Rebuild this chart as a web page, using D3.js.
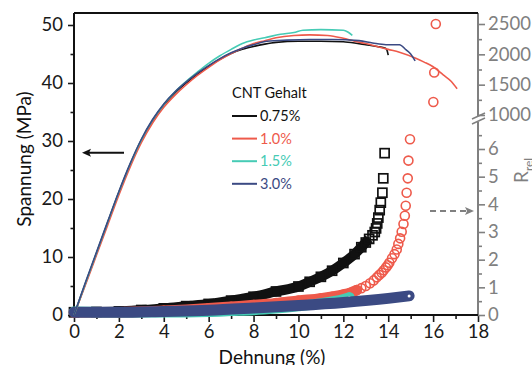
<!DOCTYPE html>
<html><head><meta charset="utf-8">
<script src="https://cdn.jsdelivr.net/npm/d3@7"></script>
<style>
html,body{margin:0;padding:0;background:#fff;}
svg{display:block;font-family:Lato,"Open Sans",sans-serif;}
</style></head>
<body>
<svg id="c" width="532" height="365"></svg>
<script>
// ---------- DATA ----------
const seriesNames = ["0.75%", "1.0%", "1.5%", "3.0%"];
const seriesColors = ["#111111", "#ee5a4b", "#46cbb5", "#3b4a83"];
const legendTitle = "CNT Gehalt";
const xTicks = [0, 2, 4, 6, 8, 10, 12, 14, 16, 18];
const yLeftTicks = [0, 10, 20, 30, 40, 50];
const yRightTicks = [0, 1, 2, 3, 4, 5, 6];
const yUpperTicks = [1000, 1500, 2000, 2500];

// stress-strain curves [strain %, stress MPa]
const stress075 = [[0,0],[0.5,5.3],[1,10.6],[1.5,15.9],[2,21.1],[2.5,25.9],[3,30.1],[3.5,33.5],[4,36.2],[4.5,38.3],[5,40],[5.5,41.5],[6,42.9],[6.5,44.1],[7,45.1],[7.5,45.8],[8,46.3],[8.5,46.7],[9,47],[10,47.2],[11,47.2],[12,47.1],[12.5,46.9],[13,46.6],[13.5,46.3],[13.88,46.0],[13.95,45.6],[14,44.8]];
const stress10 = [[0,0],[0.5,5.1],[1,10.3],[1.5,15.5],[2,20.7],[2.5,25.5],[3,29.7],[3.5,33.1],[4,35.8],[4.5,37.9],[5,39.7],[5.5,41.3],[6,42.7],[6.5,44],[7,45.1],[7.5,46],[8,46.8],[8.5,47.3],[9,47.8],[9.8,48.2],[10.5,48.3],[11.3,48.2],[12,47.7],[12.5,47.2],[13,46.8],[13.5,46.3],[14,45.8],[14.5,45.3],[15.2,44.3],[15.6,43.6],[16,42.8],[16.45,41.4],[16.8,40.3],[17.07,39.0]];
const stress15 = [[0,0],[0.5,5.4],[1,10.7],[1.5,16],[2,21.2],[2.5,26],[3,30.2],[3.5,33.6],[4,36.3],[4.5,38.5],[5,40.3],[5.5,41.9],[6,43.4],[6.5,44.7],[7,45.8],[7.5,46.8],[8,47.4],[8.5,47.8],[9.2,48.4],[9.8,48.7],[10.2,49.1],[11,49.2],[12,49.1],[12.2,48.8],[12.4,48.2]];
const stress30 = [[0,0],[0.5,5.5],[1,10.8],[1.5,16.1],[2,21.3],[2.5,26.1],[3,30.3],[3.5,33.7],[4,36.4],[4.5,38.5],[5,40.2],[5.5,41.7],[6,43],[6.5,44.2],[7,45.2],[7.5,46],[8,46.6],[8.6,47.2],[9.5,47.4],[10.5,47.5],[11.5,47.5],[12.7,47.3],[13.3,46.9],[13.9,46.6],[14.5,46.6],[14.8,45.7],[15.0,45.0],[15.2,43.8]];

// relative resistance R_rel [strain %, R_rel]; dense part (markers merge) and tail (single markers)
const rel075Dense = [[0,0.1],[1,0.11],[2,0.13],[3,0.18],[4,0.24],[5,0.32],[6,0.4],[7,0.52],[8,0.66],[9,0.85],[10,1.03],[10.5,1.2],[11,1.38],[11.5,1.6],[12,1.88],[12.5,2.2],[12.8,2.45],[13.0,2.62]];
const rel075Tail = [[13.15,2.75],[13.3,2.88],[13.4,3.0],[13.46,3.13],[13.51,3.31],[13.56,3.52],[13.62,3.79],[13.67,4.06],[13.74,4.42],[13.78,4.94],[13.84,5.85]];
const rel10Dense = [[0,0.1],[2,0.1],[4,0.15],[6,0.24],[7,0.3],[8,0.36],[9,0.43],[10,0.52],[11,0.6],[11.5,0.66],[12,0.74],[12.3,0.8],[12.6,0.9]];
const rel10Tail = [[12.8,0.97],[13.0,1.05],[13.19,1.15],[13.35,1.25],[13.49,1.36],[13.6,1.45],[13.71,1.53],[13.8,1.62],[13.9,1.72],[13.98,1.8],[14.05,1.89],[14.17,2.05],[14.28,2.2],[14.38,2.37],[14.45,2.57],[14.53,2.77],[14.6,3.01],[14.68,3.29],[14.74,3.59],[14.78,3.95],[14.82,4.42],[14.87,4.94],[14.9,5.58],[14.97,6.35]];
const rel10Upper = [[16.12,2500],[16.05,1700],[16.01,1215]];
const rel15Dense = [[0,0.12],[2,0.1],[4,0.1],[6,0.12],[7,0.15],[8,0.18],[9,0.24],[10,0.32],[11,0.42],[12,0.57],[12.27,0.63]];
const rel30Dense = [[0,0.1],[2,0.1],[4,0.13],[6,0.17],[8,0.25],[10,0.34],[12,0.45],[14,0.6],[14.93,0.69]];

// ---------- CHART ----------
const svg = d3.select("#c");
const L = 74, R = 478, T = 13, B = 315;
const x = d3.scaleLinear([0, 18], [L, R]);
const yL = d3.scaleLinear([0, 50], [B, 25]);
const yR = d3.scaleLinear([0, 6], [B, 149]);
const yU = d3.scaleLinear([1000, 2500], [115, 24]);
const gray = "#808080";
const fs = 18.5;
const fmt = d3.format("d");

function styleAxis(g, color) {
  g.select(".domain").remove();
  g.selectAll("line").attr("stroke", color).attr("stroke-width", 1.6);
  g.selectAll("text").attr("fill", color).style("font-size", fs + "px").style("font-family", "Lato");
}

// left axis
svg.append("g").attr("transform", `translate(${L},0)`)
  .call(d3.axisLeft(yL).tickValues(yLeftTicks).tickFormat(fmt).tickSize(6).tickPadding(5).tickSizeOuter(0))
  .call(g => styleAxis(g, "#1a1a1a"));
svg.append("g").attr("transform", `translate(${L},0)`)
  .call(d3.axisLeft(yL).tickValues(d3.range(5, 50, 10)).tickSize(3.5).tickFormat("").tickSizeOuter(0))
  .call(g => styleAxis(g, "#1a1a1a"));
// bottom axis
svg.append("g").attr("transform", `translate(0,${B})`)
  .call(d3.axisBottom(x).tickValues(xTicks).tickFormat(fmt).tickSize(7).tickPadding(3).tickSizeOuter(0))
  .call(g => styleAxis(g, "#1a1a1a"));
svg.append("g").attr("transform", `translate(0,${B})`)
  .call(d3.axisBottom(x).tickValues(d3.range(1, 18, 2)).tickSize(4).tickFormat("").tickSizeOuter(0))
  .call(g => styleAxis(g, "#1a1a1a"));
// right lower axis
svg.append("g").attr("transform", `translate(${R},0)`)
  .call(d3.axisRight(yR).tickValues(yRightTicks).tickFormat(fmt).tickSize(7).tickPadding(3).tickSizeOuter(0))
  .call(g => styleAxis(g, gray));
svg.append("g").attr("transform", `translate(${R},0)`)
  .call(d3.axisRight(yR).tickValues(d3.range(0.5, 6.6, 1)).tickSize(4).tickFormat("").tickSizeOuter(0))
  .call(g => styleAxis(g, gray));
// right upper axis
svg.append("g").attr("transform", `translate(${R},0)`)
  .call(d3.axisRight(yU).tickValues(yUpperTicks).tickFormat(fmt).tickSize(7).tickPadding(3).tickSizeOuter(0))
  .call(g => styleAxis(g, gray));
svg.append("g").attr("transform", `translate(${R},0)`)
  .call(d3.axisRight(yU).tickValues([1250, 1750, 2250]).tickSize(4).tickFormat("").tickSizeOuter(0))
  .call(g => styleAxis(g, gray));

// frame lines
const frame = svg.append("g").attr("stroke-width", 2).attr("fill", "none");
frame.append("line").attr("x1", R).attr("x2", R).attr("y1", T).attr("y2", 116).attr("stroke", gray);
frame.append("line").attr("x1", R).attr("x2", R).attr("y1", 122).attr("y2", B).attr("stroke", gray);
frame.append("line").attr("x1", 472).attr("x2", 485).attr("y1", 119).attr("y2", 113).attr("stroke", gray).attr("stroke-width", 1.5);
frame.append("line").attr("x1", 472).attr("x2", 485).attr("y1", 124).attr("y2", 118).attr("stroke", gray).attr("stroke-width", 1.5);
frame.append("line").attr("x1", L).attr("x2", R).attr("y1", T).attr("y2", T).attr("stroke", "#111");
frame.append("line").attr("x1", L).attr("x2", L).attr("y1", T).attr("y2", B).attr("stroke", "#111");
frame.append("line").attr("x1", L - 1).attr("x2", R).attr("y1", B).attr("y2", B).attr("stroke", "#111");

// R_rel scatter bands
const plot = svg.append("g");
const bandLine = d3.line().x(d => x(d[0])).y(d => yR(d[1])).curve(d3.curveMonotoneX);
function squares(data, color) {
  plot.append("g").selectAll("rect").data(data).join("rect")
    .attr("x", d => x(d[0]) - 4.5).attr("y", d => yR(d[1]) - 4.5)
    .attr("width", 9).attr("height", 9)
    .attr("fill", "none").attr("stroke", color).attr("stroke-width", 1.7);
}
function circles(data, color, yScale, r, sw) {
  plot.append("g").selectAll("circle").data(data).join("circle")
    .attr("cx", d => x(d[0])).attr("cy", d => yScale(d[1])).attr("r", r)
    .attr("fill", "none").attr("stroke", color).attr("stroke-width", sw);
}
function band(data, color, w, cap) {
  plot.append("path").datum(data).attr("d", bandLine)
    .attr("fill", "none").attr("stroke", color).attr("stroke-width", w)
    .attr("stroke-linecap", cap).attr("stroke-linejoin", "round");
}
// 0.75% black squares
band(rel075Dense, seriesColors[0], 10, "square");
squares(rel075Dense.concat(rel075Tail), seriesColors[0]);
// 1.0% red circles
band(rel10Dense, seriesColors[1], 10.5, "round");
circles(rel10Dense.concat(rel10Tail), seriesColors[1], yR, 4.5, 1.6);
circles(rel10Upper, seriesColors[1], yU, 4.5, 1.6);
// 1.5% teal
band(rel15Dense, seriesColors[2], 10.5, "round");
circles(rel15Dense.slice(-1), seriesColors[2], yR, 4, 2.5);
plot.append("circle").attr("cx", x(rel15Dense[rel15Dense.length-1][0])).attr("cy", yR(rel15Dense[rel15Dense.length-1][1])).attr("r", 1.3).attr("fill", "#fff");
// 3.0% navy
band(rel30Dense, seriesColors[3], 11, "round");
plot.append("circle").attr("cx", x(rel30Dense[rel30Dense.length-1][0])).attr("cy", yR(rel30Dense[rel30Dense.length-1][1])).attr("r", 1.5).attr("fill", "#fff");

// stress lines
const sLine = d3.line().x(d => x(d[0])).y(d => yL(d[1])).curve(d3.curveMonotoneX);
[stress075, stress10, stress15, stress30].forEach((s, i) => {
  plot.append("path").datum(s).attr("d", sLine).attr("fill", "none")
    .attr("stroke", seriesColors[i]).attr("stroke-width", 1.6).attr("stroke-linejoin", "round");
});

// arrows
svg.append("line").attr("x1", 124).attr("x2", 88).attr("y1", 152.7).attr("y2", 152.7).attr("stroke", "#111").attr("stroke-width", 2);
svg.append("path").attr("d", "M82,152.7 L91,148.7 L89,152.7 L91,156.7 Z").attr("fill", "#111");
svg.append("line").attr("x1", 430).attr("x2", 466).attr("y1", 211).attr("y2", 211).attr("stroke", gray).attr("stroke-width", 2).attr("stroke-dasharray", "6,4");
svg.append("path").attr("d", "M474,211 L465,207 L467,211 L465,215 Z").attr("fill", gray);

// legend
const lg = svg.append("g").style("font-family", "Lato").style("font-size", "14.5px");
lg.append("text").attr("x", 232).attr("y", 93).attr("dy", "0.35em").attr("fill", "#111").text(legendTitle);
seriesNames.forEach((n, i) => {
  const yy = 116 + i * 22.6;
  lg.append("line").attr("x1", 232).attr("x2", 257).attr("y1", yy).attr("y2", yy)
    .attr("stroke", seriesColors[i]).attr("stroke-width", 2);
  lg.append("text").attr("x", 260).attr("y", yy).attr("dy", "0.35em").attr("fill", seriesColors[i]).text(n);
});

// axis titles
svg.append("text").attr("transform", "translate(31,159) rotate(-90)").attr("text-anchor", "middle")
  .style("font-size", "19px").attr("fill", "#111").text("Spannung (MPa)");
svg.append("text").attr("x", 272).attr("y", 364).attr("text-anchor", "middle")
  .style("font-size", "19px").attr("fill", "#111").text("Dehnung (%)");
const rl = svg.append("text").attr("transform", "translate(528,183) rotate(-90)").attr("fill", gray)
  .style("font-size", "19px");
rl.append("tspan").text("R");
rl.append("tspan").attr("dy", 5).style("font-size", "12px").text("rel");
</script>
</body></html>
